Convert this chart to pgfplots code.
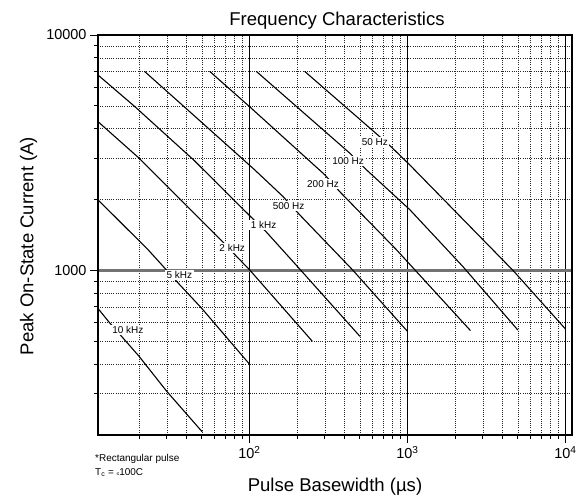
\documentclass[border=0pt]{standalone}
\usepackage{fontspec}
\setmainfont{Liberation Sans}
\usepackage{pgfplots}
\pgfplotsset{compat=1.18}
\begin{document}
\begin{tikzpicture}
\useasboundingbox (-98bp,-63bp) rectangle (489bp,435bp);
\begin{axis}[
  at={(0,0)}, anchor=south west,
  scale only axis, width=474bp, height=400bp,
  xmode=log, ymode=log,
  xmin=11, xmax=11000, ymin=200, ymax=10000,
  xtick={100,1000,10000},
  xticklabels={10\textsuperscript{2},10\textsuperscript{3},10\textsuperscript{4}},
  ytick={1000,10000}, yticklabels={1000,10000},
  minor xtick={20,30,40,50,60,70,80,90,200,300,400,500,600,700,800,900,2000,3000,4000,5000,6000,7000,8000,9000},
  minor ytick={300,400,500,600,700,800,900,2000,3000,4000,5000,6000,7000,8000,9000},
  tick pos=left, tick align=outside,
  major tick length=8bp, minor tick length=4bp,
  grid=both,
  minor grid style={black!85, line width=0.5bp, dash pattern=on 1bp off 1.2bp},
  major x grid style={black, line width=0.9bp, line cap=round},
  major y grid style={black!55, line width=2.4bp},
  axis line style={line width=1.6bp},
  every tick/.style={black, line width=0.9bp},
  ticklabel style={font=\fontsize{14.5}{16}\selectfont},
]
\tikzset{cur/.style={black, solid, line width=1.1bp, mark=none, line cap=round, line join=round}}
% 10 kHz
\addplot[cur] coordinates {(11,689) (13.06,598) (15.85,516) (20,432) (29.9,307) (50,207)};
% 5 kHz
\addplot[cur] coordinates {(11,1995) (22.8,1225) (29.1,1023) (35.3,885) (49.7,692) (100,400)};
% 2 kHz
\addplot[cur] coordinates {(11,4285) (20,3000) (66.5,1340) (82.8,1148) (100,1007) (250,500)};
% 1 kHz
\addplot[cur] coordinates {(11,6761) (18.8,4966) (44.7,2931) (100.5,1706) (128,1455) (201,1040) (500,525)};
% 500 Hz
\addplot[cur] coordinates {(21.7,7000) (50,4246) (108,2673) (163,2061) (208,1722) (447,1009) (1000,551)};
% 200 Hz
\addplot[cur] coordinates {(56.1,7000) (100,4966) (300,2547) (372,2163) (851,1225) (2500,556)};
% 100 Hz
\addplot[cur] coordinates {(110.7,7000) (431.5,3148) (544.5,2692) (1035,1811) (2239,1040) (5000,558)};
% 50 Hz
\addplot[cur] coordinates {(224,7000) (637,3802) (792,3342) (1035,2805) (4656,1000) (10000,564)};

\tikzset{lab/.style={fill=white, inner sep=1.5bp, font=\fontsize{10}{10}\selectfont}}
\node[lab] at (axis cs:621,3508) {50 Hz};
\node[lab] at (axis cs:421,2918) {100 Hz};
\node[lab] at (axis cs:292,2338) {200 Hz};
\node[lab] at (axis cs:177,1876) {500 Hz};
\node[lab] at (axis cs:123,1559) {1 kHz};
\node[lab] at (axis cs:77.8,1242) {2 kHz};
\node[lab] at (axis cs:36.0,954) {5 kHz};
\node[lab] at (axis cs:17.0,557) {10 kHz};
\end{axis}
\node[anchor=base, font=\fontsize{18.6}{20}\selectfont] at (239bp,409.3bp) {Frequency Characteristics};
\node[anchor=base, font=\fontsize{18.6}{20}\selectfont] at (237bp,-56.7bp) {Pulse Basewidth (µs)};
\node[anchor=base, rotate=90, font=\fontsize{18.6}{20}\selectfont] at (-64.7bp,189bp) {Peak On-State Current (A)};
\node[anchor=base west, inner sep=0pt, font=\fontsize{10}{12}\selectfont] at (-3bp,-26.7bp) {*Rectangular pulse};
\node[anchor=base west, inner sep=0pt, font=\fontsize{10}{12}\selectfont] at (-3bp,-40bp) {T\textsubscript{c} = {\fontsize{5}{6}\selectfont ≤}100C};
\end{tikzpicture}
\end{document}
